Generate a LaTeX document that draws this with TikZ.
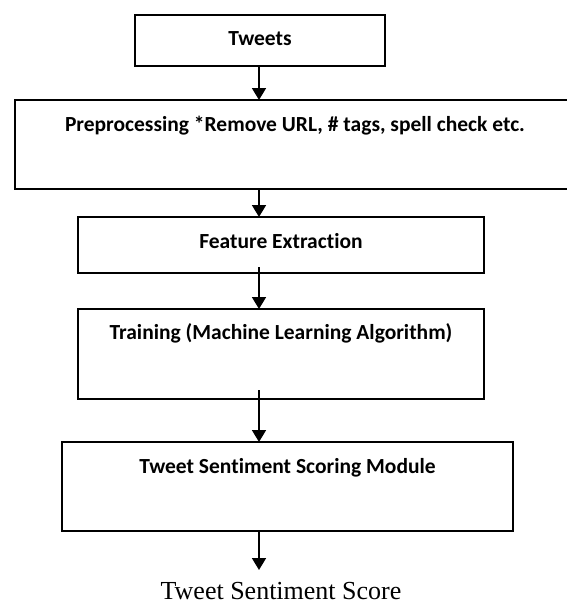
\documentclass[tikz,border=0pt]{standalone}
\usepackage{fontspec}
\newfontfamily\boxfont{Carlito}[Ligatures={NoCommon,NoContextual}]
\newfontfamily\resultfont{Liberation Serif}
\usetikzlibrary{arrows.meta,calc}

\tikzset{
  stage/.style={draw=black, line width=1.6pt, inner xsep=0pt, inner ysep=0pt,
    outer sep=0pt, anchor=north, align=center,
    font=\boxfont\fontsize{21.5}{25}\selectfont\bfseries},
  flow/.style={draw=black, line width=1.8pt, -{Triangle[width=14pt,length=12pt]}},
  result/.style={anchor=base, inner sep=0pt, font=\resultfont\fontsize{26}{29}\selectfont}
}

\begin{document}
\begin{tikzpicture}[x=1pt, y=-1pt]
  \useasboundingbox (0,0) rectangle (567,606);
  \clip (0,0) rectangle (567,606);

  % processing stages, placed by the middle of their top edges
  \node[stage, minimum width=250pt, text height=30.8pt, text depth=20.2pt]
    (tw) at (260,15) {Tweets};
  \node[stage, minimum width=560pt, text height=31.8pt, text depth=57.2pt]
    (pre) at (295,100) {Preprocessing *Remove URL, \# tags, spell check etc.};
  \node[stage, minimum width=406pt, text height=31.8pt, text depth=24.2pt]
    (feat) at (281,217) {Feature Extraction};
  \node[stage, minimum width=406pt, text height=30.8pt, text depth=59.2pt]
    (train) at (281,309) {Training (Machine Learning Algorithm)};
  \node[stage, minimum width=451pt, text height=31.8pt, text depth=57.2pt]
    (score) at (287.5,442) {Tweet Sentiment Scoring Module};

  % final output
  \coordinate (outend) at (259,570);
  \node[result] (res) at (281,599.5) {Tweet Sentiment Score};

  % connectors along one vertical line
  \draw[flow] (tw.south -| outend) -- (pre.north -| outend);
  \draw[flow] (pre.south -| outend) -- (feat.north -| outend);
  \draw[flow] ($(feat.south -| outend)+(0,-6)$) -- (train.north -| outend);
  \draw[flow] ($(train.south -| outend)+(0,-9)$) -- (score.north -| outend);
  \draw[flow] (score.south -| outend) -- (outend);
\end{tikzpicture}
\end{document}
